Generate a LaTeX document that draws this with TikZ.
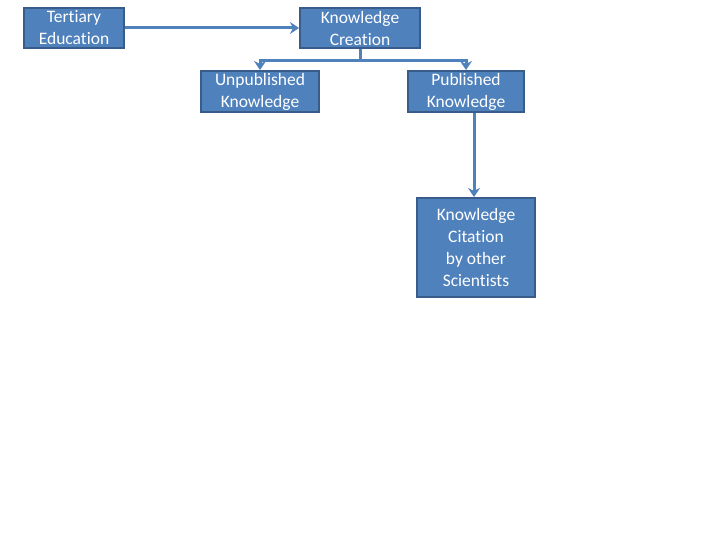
\documentclass[tikz,border=0pt]{standalone}
\usepackage{fontspec}
\setmainfont[Ligatures={NoCommon}]{Carlito}
\usetikzlibrary{arrows.meta}
\definecolor{boxfill}{HTML}{4F81BD}
\definecolor{boxline}{HTML}{385D8A}
\tikzset{
  kbox/.style={draw=boxline, line width=2pt, fill=boxfill, text=white,
    align=center, inner sep=0pt, font=\fontsize{17.5}{22}\selectfont},
  flow/.style={draw=boxfill, line width=3pt, -{Stealth[length=9pt,width=12pt]}}
}
\begin{document}
\begin{tikzpicture}[x=1pt,y=-1pt]
\useasboundingbox (0,0) rectangle (720,540);

\node[kbox, minimum width=100pt, minimum height=40pt] (tert) at (74,28) {Tertiary\\Education};
\node[kbox, minimum width=120pt, minimum height=40pt] (create) at (360,28) {Knowledge\\Creation};
\node[kbox, minimum width=118pt, minimum height=41pt] (unpub) at (260,91.5) {Unpublished\\Knowledge};
\node[kbox, minimum width=116pt, minimum height=41pt] (pub) at (466,91.5) {Published\\Knowledge};
\node[kbox, minimum width=118pt, minimum height=99pt] (cite) at (476,247.5) {Knowledge\\Citation\\by other\\Scientists};

\draw[flow] (tert.east) -- (create.west);
\draw[flow] (create.south) -- ++(0,12) -| (unpub.north);
\draw[flow] (create.south) -- ++(0,12) -| (pub.north);
\draw[flow] ([xshift=8pt]pub.south) -- ([xshift=-2pt]cite.north);
\end{tikzpicture}
\end{document}
